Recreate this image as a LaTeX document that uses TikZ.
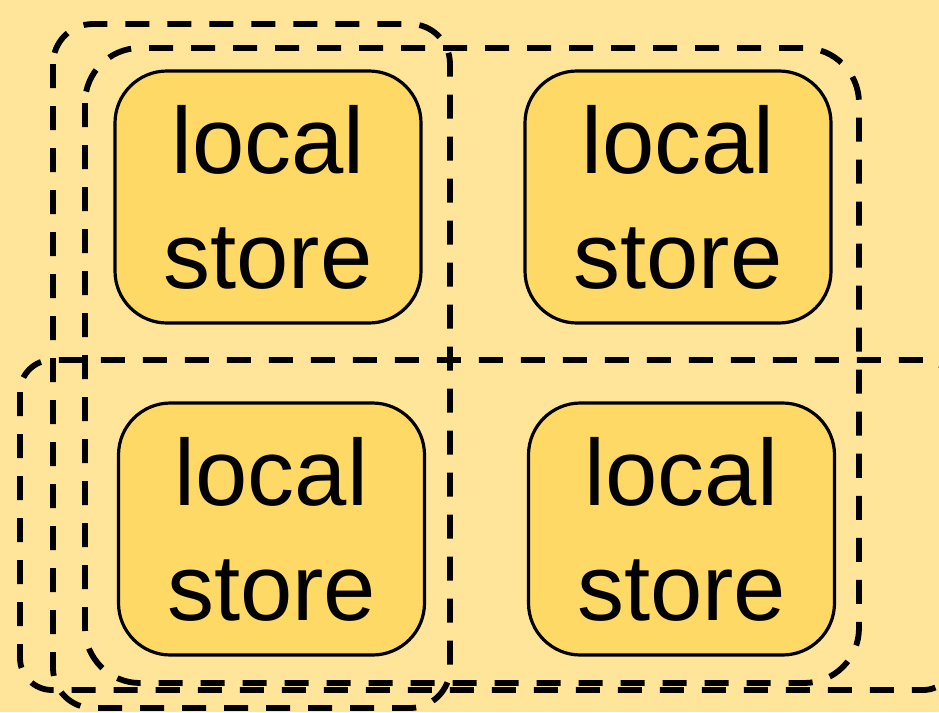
\documentclass[tikz,border=0pt]{standalone}
\usepackage{fontspec}
\setmainfont{Liberation Sans}
\definecolor{bgyellow}{HTML}{FFE599}
\definecolor{boxyellow}{HTML}{FFD966}
\tikzset{
  storebox/.style={draw=black, line width=3.2pt, fill=boxyellow, rounded corners=52pt,
    minimum width=306pt, minimum height=252pt, inner sep=0pt, align=center,
    font=\fontsize{94}{115}\selectfont},
  group/.style={draw=black, line width=5.8pt, dash pattern=on 24pt off 18pt}
}
\begin{document}
\begin{tikzpicture}[x=1pt,y=-1pt]
  \useasboundingbox (0,0) rectangle (939,712);
  \fill[bgyellow] (0,0) rectangle (939,712);
  \clip (0,0) rectangle (939,712);
  % groups
  \draw[group, rounded corners=40pt] (53,24) rectangle (450,708);
  \draw[group, rounded corners=55pt] (85,48) rectangle (859,683);
  \draw[group, rounded corners=32pt] (20,360) rectangle (955,690);
  % stores
  \node[storebox] (tl) at (268,197) {local\\store};
  \node[storebox] (tr) at (678,197) {local\\store};
  \node[storebox] (bl) at (271.5,529) {local\\store};
  \node[storebox] (br) at (681.5,529) {local\\store};
\end{tikzpicture}
\end{document}
